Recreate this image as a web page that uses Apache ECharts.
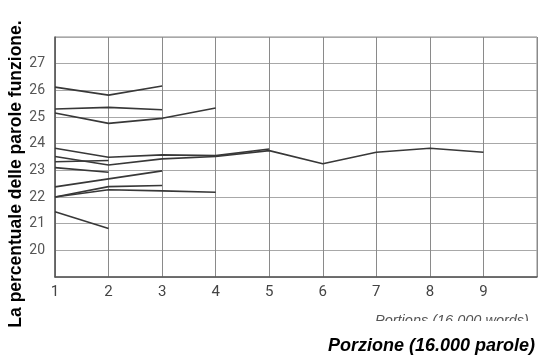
<!DOCTYPE html>
<html>
<head>
<meta charset="utf-8">
<script src="https://cdn.jsdelivr.net/npm/echarts@6/dist/echarts.min.js"></script>
<style>
html, body { margin: 0; padding: 0; background: #fff; }
#chart { width: 540px; height: 356px; }
</style>
</head>
<body>
<div id="chart"></div>
<script>
// porzioni (16.000 parole ciascuna); l'ultima è il bordo destro senza etichetta
var portions = ['1', '2', '3', '4', '5', '6', '7', '8', '9', ''];
var yTicks = [20, 21, 22, 23, 24, 25, 26, 27];

// una linea per testo
var t1 = [26.12, 25.82, 26.16];
var t2 = [25.3, 25.36, 25.27];
var t3 = [25.15, 24.76, 24.95, 25.34];
var t4 = [23.83, 23.49, 23.58, 23.55, 23.8];
var t5 = [23.52, 23.2, 23.43, 23.52, 23.74, 23.25, 23.68, 23.83, 23.68];
var t6 = [23.32, 23.37];
var t7 = [23.1, 22.93];
var t8 = [22.38, 22.68, 22.98];
var t9 = [22.0, 22.39, 22.43];
var t10 = [22.0, 22.27, 22.23, 22.18];
var t11 = [21.45, 20.82];

var texts = [t1, t2, t3, t4, t5, t6, t7, t8, t9, t10, t11];

var chart = echarts.init(document.getElementById('chart'));

var series = texts.map(function (d) {
	return {
		type: 'line',
		data: d,
		symbol: 'none',
		silent: true,
		lineStyle: { color: '#383838', width: 1.6 }
	};
});

var option = {
	animation: false,
	backgroundColor: '#fff',
	grid: { left: 55, right: 3, top: 37, bottom: 79, show: true, borderColor: '#8a8a8a', borderWidth: 1 },
	xAxis: {
		type: 'category',
		data: portions,
		boundaryGap: false,
		axisLine: { lineStyle: { color: '#555', width: 1.5 } },
		axisTick: { show: false },
		axisLabel: {
			color: '#444',
			fontSize: 15,
			fontFamily: 'Liberation Sans Narrow, Roboto, sans-serif',
			margin: 8
		},
		splitLine: { show: true, lineStyle: { color: '#8a8a8a', width: 1 } }
	},
	yAxis: {
		type: 'value',
		min: 19,
		max: 28,
		interval: 1,
		axisLine: { show: true, lineStyle: { color: '#555', width: 1.5 } },
		axisTick: { show: false },
		axisLabel: {
			color: '#555',
			fontSize: 14,
			fontFamily: 'Liberation Sans Narrow, Roboto, sans-serif',
			margin: 10,
			formatter: function (v) { return yTicks.indexOf(v) >= 0 ? v : ''; }
		},
		splitLine: { show: true, lineStyle: { color: '#a8a8a8', width: 1 } }
	},
	graphic: [
		{
			type: 'text',
			x: 16,
			y: 174,
			rotation: Math.PI / 2,
			style: {
				text: 'La percentuale delle parole funzione.',
				fill: '#000',
				font: 'bold 17.5px "Liberation Sans", Arial, sans-serif',
				align: 'center',
				verticalAlign: 'middle'
			}
		},
		{
			type: 'text',
			x: 375,
			y: 313,
			style: {
				text: 'Portions (16.000 words)',
				fill: '#555',
				font: 'italic 14.5px "Liberation Sans Narrow", "Liberation Sans", sans-serif',
				align: 'left',
				verticalAlign: 'top'
			}
		},
		{
			type: 'rect',
			z: 100,
			shape: { x: 360, y: 321, width: 180, height: 14 },
			style: { fill: '#fff' }
		},
		{
			type: 'text',
			z: 101,
			x: 535,
			y: 346,
			style: {
				text: 'Porzione (16.000 parole)',
				fill: '#000',
				font: 'italic bold 18px "Liberation Sans", Arial, sans-serif',
				align: 'right',
				verticalAlign: 'middle'
			}
		}
	],
	series: series
};

chart.setOption(option);
</script>
</body>
</html>
